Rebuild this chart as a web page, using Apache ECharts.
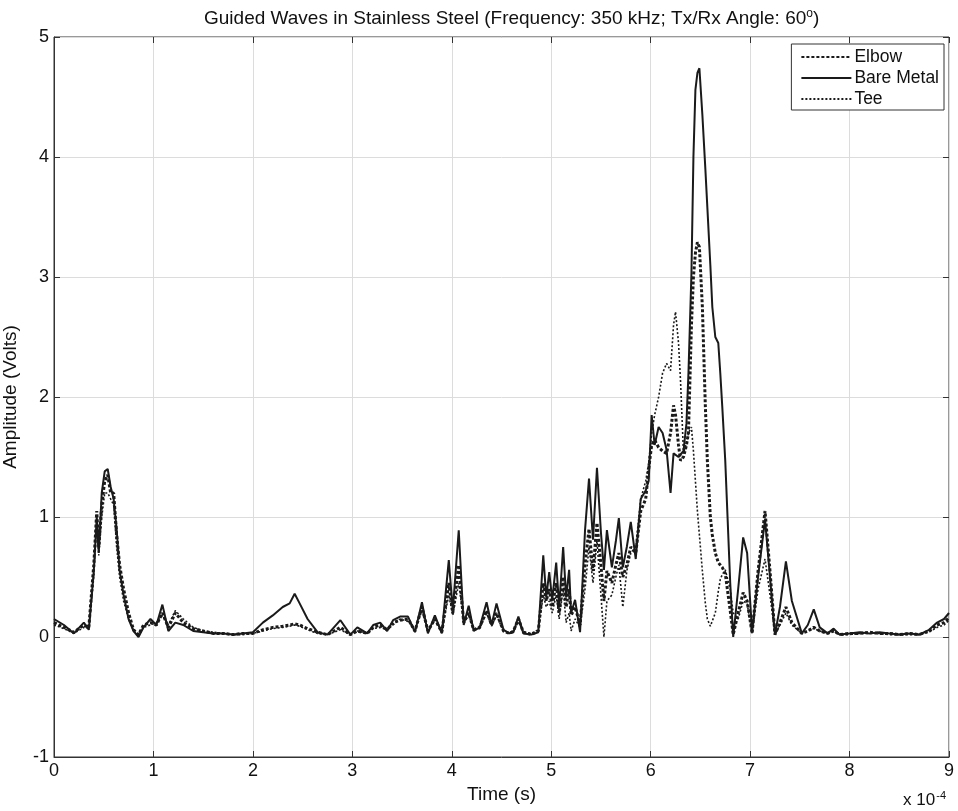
<!DOCTYPE html>
<html>
<head>
<meta charset="utf-8">
<title>Guided Waves in Stainless Steel</title>
<script src="https://cdn.jsdelivr.net/npm/echarts@6/dist/echarts.min.js"></script>
<style>
html, body { margin: 0; padding: 0; background: #fff; }
#chart { width: 958px; height: 811px; }
</style>
</head>
<body>
<div id="chart"></div>
<script>
// time axis in units of 1e-4 s
var timeVals = [
	0, 0.1, 0.2, 0.3, 0.35, 0.4, 0.43, 0.45, 0.48, 0.51, 0.54, 0.57, 0.6, 0.63, 0.66, 0.7, 0.75, 0.8, 0.85, 0.9,
	0.97, 1.03, 1.09, 1.15, 1.22, 1.3, 1.4, 1.5, 1.6, 1.7, 1.8, 1.9, 2.0, 2.1, 2.2, 2.3, 2.37, 2.42, 2.47, 2.55, 2.65, 2.75,
	2.88, 2.98, 3.05, 3.15, 3.21, 3.28, 3.35, 3.41, 3.48, 3.56, 3.63, 3.7, 3.76, 3.83, 3.9,
	3.97, 4.01, 4.07, 4.12, 4.17, 4.22, 4.28, 4.35, 4.4, 4.45, 4.52, 4.58, 4.62, 4.67, 4.72, 4.8, 4.87,
	4.92, 4.95, 4.98, 5.01, 5.05, 5.08, 5.12, 5.15, 5.18, 5.2, 5.24, 5.29, 5.34, 5.38, 5.42, 5.46, 5.5, 5.53, 5.56, 5.61, 5.65, 5.68, 5.72, 5.76, 5.8, 5.85, 5.9, 5.95,
	5.98, 6.01, 6.04, 6.08, 6.12, 6.16, 6.2, 6.23, 6.25, 6.28, 6.3, 6.33, 6.36, 6.38, 6.41, 6.43, 6.45, 6.47, 6.49, 6.52, 6.55, 6.57, 6.6, 6.62, 6.65, 6.68, 6.7, 6.72, 6.75, 6.8, 6.83,
	6.88, 6.93, 6.97, 7.02, 7.08, 7.15, 7.2, 7.25, 7.3, 7.36, 7.42, 7.52, 7.58, 7.64, 7.7, 7.78, 7.84, 7.9,
	8.0, 8.1, 8.2, 8.3, 8.4, 8.5, 8.6, 8.7, 8.8, 8.88, 8.95, 9.0
];
var elbowVals = [
	0.12, 0.08, 0.04, 0.1, 0.08, 0.6, 1.05, 0.75, 1.1, 1.3, 1.35, 1.2, 1.2, 0.85, 0.6, 0.4, 0.2, 0.06, 0.02, 0.1,
	0.12, 0.1, 0.2, 0.08, 0.2, 0.12, 0.07, 0.05, 0.03, 0.03, 0.02, 0.03, 0.03, 0.06, 0.08, 0.09, 0.1, 0.11, 0.1, 0.07, 0.04, 0.02,
	0.08, 0.02, 0.05, 0.03, 0.08, 0.1, 0.06, 0.12, 0.14, 0.15, 0.05, 0.25, 0.05, 0.15, 0.04,
	0.45, 0.2, 0.6, 0.12, 0.2, 0.06, 0.08, 0.22, 0.1, 0.2, 0.05, 0.03, 0.05, 0.15, 0.04, 0.02, 0.05,
	0.45, 0.3, 0.4, 0.25, 0.45, 0.2, 0.5, 0.25, 0.4, 0.18, 0.25, 0.1, 0.6, 0.9, 0.55, 0.95, 0.6, 0.3, 0.55, 0.45, 0.6, 0.7, 0.5, 0.6, 0.75, 0.7, 1.05, 1.15,
	1.4, 1.6, 1.64, 1.58, 1.55, 1.53, 1.7, 1.93, 1.85, 1.6, 1.47, 1.5, 1.6, 1.7, 2.6, 3.0, 3.2, 3.29, 3.25, 2.75, 1.92, 1.47, 1.0, 0.85, 0.7, 0.62, 0.6, 0.58, 0.53, 0.22, 0.02,
	0.2, 0.37, 0.3, 0.03, 0.55, 1.05, 0.55, 0.02, 0.12, 0.25, 0.12, 0.03, 0.05, 0.08, 0.05, 0.03, 0.05, 0.02,
	0.03, 0.03, 0.04, 0.03, 0.03, 0.02, 0.03, 0.02, 0.05, 0.1, 0.12, 0.16
];
var bareVals = [
	0.15, 0.1, 0.03, 0.12, 0.06, 0.55, 1.0, 0.7, 1.2, 1.38, 1.4, 1.25, 1.15, 0.9, 0.55, 0.35, 0.15, 0.05, 0.0, 0.08,
	0.15, 0.1, 0.27, 0.05, 0.12, 0.1, 0.05, 0.04, 0.03, 0.03, 0.02, 0.03, 0.04, 0.12, 0.18, 0.25, 0.28, 0.36, 0.28, 0.15, 0.04, 0.02,
	0.14, 0.02, 0.08, 0.03, 0.1, 0.12, 0.05, 0.14, 0.17, 0.17, 0.04, 0.29, 0.03, 0.18, 0.03,
	0.64, 0.22, 0.89, 0.1, 0.26, 0.05, 0.08, 0.29, 0.1, 0.28, 0.06, 0.03, 0.04, 0.17, 0.03, 0.02, 0.04,
	0.68, 0.33, 0.54, 0.31, 0.62, 0.25, 0.75, 0.33, 0.56, 0.2, 0.31, 0.04, 0.89, 1.32, 0.81, 1.41, 0.87, 0.56, 0.89, 0.58, 0.8, 0.99, 0.58, 0.75, 0.96, 0.65, 1.15, 1.22,
	1.3, 1.85, 1.6, 1.75, 1.7, 1.56, 1.2, 1.53, 1.52, 1.5, 1.5, 1.55, 1.78, 2.2, 3.03, 4.0, 4.56, 4.7, 4.74, 4.35, 3.9, 3.58, 3.1, 2.75, 2.5, 2.45, 2.2, 1.92, 1.47, 0.45, 0.0,
	0.4, 0.83, 0.7, 0.04, 0.5, 0.98, 0.5, 0.02, 0.25, 0.63, 0.3, 0.03, 0.1, 0.23, 0.08, 0.03, 0.07, 0.02,
	0.03, 0.04, 0.03, 0.04, 0.03, 0.02, 0.03, 0.02, 0.06, 0.12, 0.15, 0.2
];
var teeVals = [
	0.1, 0.07, 0.03, 0.08, 0.07, 0.5, 0.95, 0.68, 1.0, 1.2, 1.2, 1.15, 1.1, 0.75, 0.5, 0.3, 0.15, 0.05, 0.02, 0.08,
	0.1, 0.12, 0.18, 0.1, 0.22, 0.15, 0.08, 0.05, 0.04, 0.03, 0.02, 0.02, 0.03, 0.05, 0.07, 0.08, 0.09, 0.1, 0.09, 0.06, 0.03, 0.02,
	0.06, 0.02, 0.05, 0.03, 0.07, 0.08, 0.06, 0.1, 0.15, 0.13, 0.06, 0.22, 0.06, 0.14, 0.05,
	0.35, 0.18, 0.45, 0.12, 0.18, 0.07, 0.07, 0.2, 0.09, 0.18, 0.05, 0.03, 0.05, 0.13, 0.04, 0.03, 0.06,
	0.35, 0.25, 0.3, 0.2, 0.35, 0.15, 0.4, 0.12, 0.2, 0.05, 0.15, 0.08, 0.4, 0.75, 0.45, 0.8, 0.35, 0.0, 0.3, 0.35, 0.5, 0.6, 0.25, 0.55, 0.7, 0.75, 1.15, 1.3,
	1.45, 1.7, 1.85, 2.0, 2.2, 2.28, 2.22, 2.6, 2.71, 2.45, 2.14, 1.53, 1.62, 1.7, 1.75, 1.55, 1.3, 1.05, 0.85, 0.55, 0.28, 0.15, 0.09, 0.08, 0.2, 0.38, 0.48, 0.52, 0.56, 0.4, 0.2,
	0.15, 0.3, 0.28, 0.03, 0.4, 0.65, 0.35, 0.02, 0.1, 0.2, 0.1, 0.03, 0.05, 0.07, 0.05, 0.03, 0.05, 0.02,
	0.02, 0.03, 0.03, 0.03, 0.02, 0.02, 0.02, 0.02, 0.04, 0.08, 0.1, 0.14
];
var xTicks = [0, 1, 2, 3, 4, 5, 6, 7, 8, 9];
var yTicks = [-1, 0, 1, 2, 3, 4, 5];

function pairs(vals) {
	var arr = [];
	for (var i = 0; i < timeVals.length; i++) {
		arr.push([timeVals[i], vals[i]]);
	}
	return arr;
}

var fontName = "Liberation Sans";
var axisColor = "#333";
var myChart = echarts.init(document.getElementById("chart"));

var option = {
	backgroundColor: "#ffffff",
	animation: false,
	textStyle: { fontFamily: fontName, color: "#111" },
	title: {
		text: "Guided Waves in Stainless Steel (Frequency: 350 kHz; Tx/Rx Angle: 60{sup|o})",
		left: 199,
		top: 3,
		textStyle: {
			fontSize: 19,
			fontWeight: "normal",
			color: "#111",
			fontFamily: fontName,
			rich: {
				sup: { fontSize: 12, verticalAlign: "top", padding: [0, 0, 9, 0], color: "#111", fontFamily: fontName }
			}
		}
	},
	grid: {
		left: 54,
		right: 9,
		top: 37,
		bottom: 54,
		containLabel: false,
		outerBoundsMode: "none",
		show: true,
		borderColor: axisColor,
		borderWidth: 1
	},
	legend: {
		orient: "vertical",
		right: 14,
		top: 44,
		padding: [4, 5, 2, 9],
		itemGap: 3,
		itemWidth: 50,
		itemHeight: 14,
		backgroundColor: "#fff",
		borderColor: axisColor,
		borderWidth: 1,
		borderRadius: 0,
		itemStyle: { opacity: 0 },
		textStyle: { fontSize: 17.5, color: "#111", fontFamily: fontName, padding: [0, 0, 0, -2] },
		data: ["Elbow", "Bare Metal", "Tee"]
	},
	xAxis: [{
		type: "value",
		min: xTicks[0],
		max: xTicks[xTicks.length - 1],
		interval: 1,
		name: "Time (s)",
		nameLocation: "middle",
		nameGap: 28,
		nameTextStyle: { fontSize: 19, color: "#111", fontFamily: fontName },
		axisLine: { show: true, onZero: false, lineStyle: { color: axisColor } },
		axisTick: { inside: true, length: 6, lineStyle: { color: axisColor } },
		axisLabel: { fontSize: 18, color: "#111", margin: 5, fontFamily: fontName },
		splitLine: { show: true, lineStyle: { color: "#dcdcdc", width: 1 } }
	}, {
		type: "value",
		position: "top",
		min: xTicks[0],
		max: xTicks[xTicks.length - 1],
		interval: 1,
		axisLine: { show: false, onZero: false },
		axisTick: { inside: true, length: 6, lineStyle: { color: axisColor } },
		axisLabel: { show: false },
		splitLine: { show: false }
	}],
	yAxis: [{
		type: "value",
		min: yTicks[0],
		max: yTicks[yTicks.length - 1],
		interval: 1,
		name: "Amplitude (Volts)",
		nameLocation: "middle",
		nameGap: 34,
		nameTextStyle: { fontSize: 19, color: "#111", fontFamily: fontName },
		axisLine: { show: true, onZero: false, lineStyle: { color: axisColor } },
		axisTick: { inside: true, length: 6, lineStyle: { color: axisColor } },
		axisLabel: { fontSize: 18, color: "#111", margin: 5, fontFamily: fontName },
		splitLine: { show: true, lineStyle: { color: "#dcdcdc", width: 1 } }
	}, {
		type: "value",
		position: "right",
		min: yTicks[0],
		max: yTicks[yTicks.length - 1],
		interval: 1,
		axisLine: { show: false, onZero: false },
		axisTick: { inside: true, length: 6, lineStyle: { color: axisColor } },
		axisLabel: { show: false },
		splitLine: { show: false }
	}],
	graphic: [{
		type: "text",
		right: 12,
		bottom: 2,
		style: {
			text: "x 10{sup|-4}",
			fill: "#111",
			font: "17px " + fontName,
			rich: {
				sup: { fontSize: 11, verticalAlign: "top", padding: [0, 0, 9, 1], fontFamily: fontName, fill: "#111" }
			}
		}
	}],
	series: [{
		name: "Elbow",
		type: "line",
		data: pairs(elbowVals),
		showSymbol: false,
		symbol: "none",
		z: 3,
		lineStyle: { color: "#1a1a1a", width: 3, type: [3, 2] },
		itemStyle: { color: "#1a1a1a" }
	}, {
		name: "Bare Metal",
		type: "line",
		data: pairs(bareVals),
		showSymbol: false,
		symbol: "none",
		z: 4,
		lineStyle: { color: "#1a1a1a", width: 2 },
		itemStyle: { color: "#1a1a1a" }
	}, {
		name: "Tee",
		type: "line",
		data: pairs(teeVals),
		showSymbol: false,
		symbol: "none",
		z: 2,
		lineStyle: { color: "#1a1a1a", width: 1.6, type: [2, 2] },
		itemStyle: { color: "#1a1a1a" }
	}]
};
myChart.setOption(option);
</script>
</body>
</html>
